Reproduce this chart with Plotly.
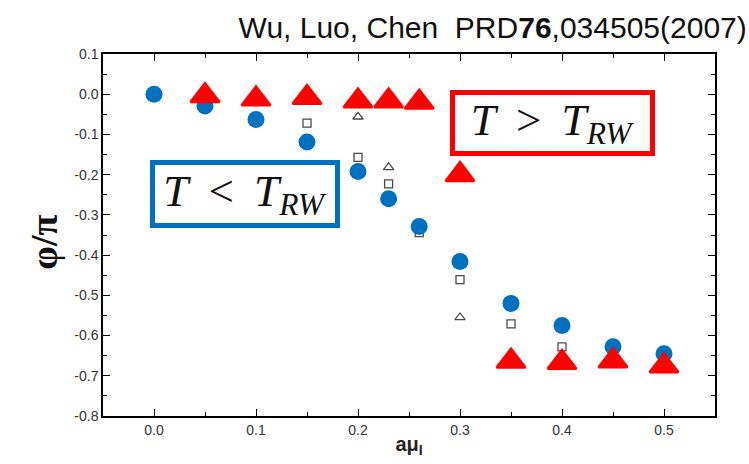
import plotly.graph_objects as go

# Phase of the Polyakov loop vs imaginary chemical potential a*mu_I
mu_circle = [0.0, 0.05, 0.10, 0.15, 0.20, 0.23, 0.26, 0.30, 0.35, 0.40, 0.45, 0.50]
phi_circle = [0.0, -0.029, -0.063, -0.119, -0.192, -0.260, -0.329, -0.416, -0.520, -0.575, -0.628, -0.645]

mu_square = [0.15, 0.20, 0.23, 0.26, 0.30, 0.35, 0.40]
phi_square = [-0.072, -0.157, -0.223, -0.344, -0.461, -0.571, -0.628]

mu_open_tri = [0.20, 0.23, 0.30]
phi_open_tri = [-0.056, -0.182, -0.555]

mu_red = [0.05, 0.10, 0.15, 0.20, 0.23, 0.26, 0.30, 0.35, 0.40, 0.45, 0.50]
phi_red = [-0.004, -0.012, -0.008, -0.017, -0.017, -0.020, -0.200, -0.664, -0.667, -0.663, -0.676]

x_ticks = [0.0, 0.1, 0.2, 0.3, 0.4, 0.5]
y_ticks = [0.1, 0.0, -0.1, -0.2, -0.3, -0.4, -0.5, -0.6, -0.7, -0.8]

BLUE = "#0070c0"
RED = "#ff0000"
GRAY = "#4a4a4a"

fig = go.Figure()

fig.add_trace(go.Scatter(
    x=mu_square, y=phi_square, mode="markers",
    marker=dict(symbol="square-open", size=8, color=GRAY, line=dict(width=1.3, color=GRAY)),
))
fig.add_trace(go.Scatter(
    x=mu_open_tri, y=phi_open_tri, mode="markers",
    marker=dict(symbol="triangle-up-open", size=9, color=GRAY, line=dict(width=1.3, color=GRAY)),
))
fig.add_trace(go.Scatter(
    x=mu_circle, y=phi_circle, mode="markers",
    marker=dict(symbol="circle", size=17, color=BLUE, line=dict(width=0)),
))
fig.add_trace(go.Scatter(
    x=mu_red, y=phi_red, mode="markers",
    marker=dict(symbol="triangle-up", size=25, color=RED, line=dict(width=2.5, color=RED)),
))

label_font = dict(family="Liberation Serif", size=45, color="#111111")
sp = "\u2009"

fig.add_annotation(
    x=0.089, y=-0.249, xref="x", yref="y",
    text=f"<i>T</i>{sp} &lt; {sp}<i>T</i><sub><i>RW</i></sub>",
    showarrow=False, font=label_font,
    bordercolor=BLUE, borderwidth=5, borderpad=0, bgcolor="white",
    width=180, height=58, align="center", valign="middle",
)
fig.add_annotation(
    x=0.391, y=-0.072, xref="x", yref="y",
    text=f"<i>T</i>{sp} &gt; {sp}<i>T</i><sub><i>RW</i></sub>",
    showarrow=False, font=label_font,
    bordercolor=RED, borderwidth=5, borderpad=0, bgcolor="white",
    width=195, height=56, align="center", valign="middle",
)

# y-axis label drawn as rotated annotation so it can sit a bit below centre
fig.add_annotation(
    x=-0.0957, y=0.48, xref="paper", yref="paper",
    text="<b>φ/π</b>", textangle=-90, showarrow=False,
    font=dict(family="Liberation Serif", size=38, color="#111111"),
    xanchor="center", yanchor="middle",
)

axis_common = dict(
    showline=True, linecolor="black", linewidth=1.5, mirror="allticks",
    ticks="inside", ticklen=7, tickwidth=1.3, tickcolor="black",
    showgrid=False, zeroline=False,
    tickfont=dict(family="Liberation Sans", size=14, color="#333333"),
    minor=dict(ticks="inside", ticklen=4, tickwidth=1.1, tickcolor="black", dtick=0.05, showgrid=False),
)

fig.update_xaxes(
    range=[-0.05, 0.55], tickvals=x_ticks, ticktext=[f"{v:.1f}" for v in x_ticks],
    title=dict(text="<b>aμ<sub>I</sub></b>", font=dict(family="Liberation Sans", size=20, color="#222222"), standoff=0),
    **axis_common,
)
fig.update_yaxes(
    range=[-0.8, 0.1], tickvals=y_ticks, ticktext=[f"{v:.1f}" for v in y_ticks],
    **axis_common,
)

fig.update_layout(
    width=749, height=464,
    margin=dict(l=103, r=34, t=54, b=43),
    paper_bgcolor="white", plot_bgcolor="white",
    showlegend=False,
    title=dict(
        text="Wu, Luo, Chen\u00a0\u00a0PRD<b>76</b>,034505(2007)",
        font=dict(family="Liberation Sans", size=30, color="#111111"),
        xref="container", yref="container", x=0.997, y=0.94,
        xanchor="right", yanchor="middle",
    ),
)

fig.write_html("out.html")
